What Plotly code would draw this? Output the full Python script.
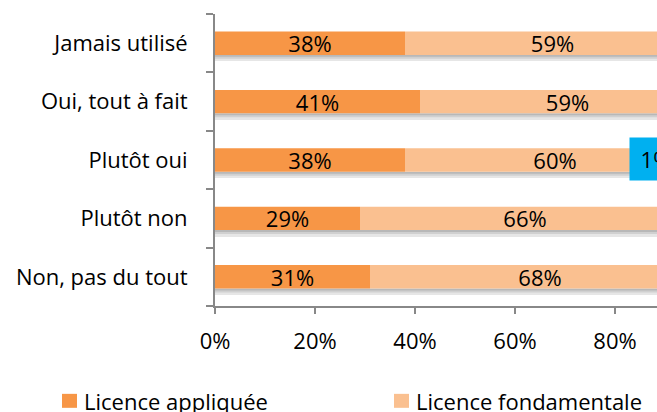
import plotly.graph_objects as go

# Response categories, listed bottom to top
categories = ["Non, pas du tout", "Plutôt non", "Plutôt oui", "Oui, tout à fait", "Jamais utilisé"]
appliquee = [31, 29, 38, 41, 38]
fondamentale = [68, 66, 60, 59, 59]
autre = [None, None, 1, None, None]

x_ticks = [0, 20, 40, 60, 80, 100]
x_tick_labels = ["0%", "20%", "40%", "60%", "80%", "100%"]

FONT = "Open Sans"
FS = 22
DARK = "#F79646"
LIGHT = "#FAC090"
BLUE = "#00B0F0"
AXIS = "#888888"

W, H = 657, 412
LEFT, TOP, BOTTOM = 215, 13.5, 106
PLOT_W = W - LEFT
PLOT_H = H - TOP - BOTTOM
PX_PER_PCT = 5.0
x_max = PLOT_W / PX_PER_PCT


def px_to_paper(px, py):
    return (px - LEFT) / PLOT_W, (H - BOTTOM - py) / PLOT_H


fig = go.Figure()

# soft shadow under each bar, a few thin bands fading out
totals = [a + f for a, f in zip(appliquee, fondamentale)]
band = 0.034
for k, col in enumerate(["#b8b8b8", "#d0d0d0", "#e6e6e6"], start=1):
    fig.add_trace(go.Bar(
        y=categories, x=totals, base=0, orientation="h",
        width=band, offset=-0.2 - band * k,
        marker=dict(color=col, line=dict(width=0)),
        showlegend=False, hoverinfo="skip",
    ))

fig.add_trace(go.Bar(
    y=categories, x=appliquee, base=0, orientation="h", name="Licence appliquée",
    width=0.4, offset=-0.2,
    marker=dict(color=DARK, line=dict(width=0)),
    text=[f"{v}%" for v in appliquee], textposition="inside", insidetextanchor="middle",
    constraintext="none", textangle=0,
    textfont=dict(family=FONT, size=FS, color="black"),
))
fig.add_trace(go.Bar(
    y=categories, x=fondamentale, base=appliquee, orientation="h", name="Licence fondamentale",
    width=0.4, offset=-0.2,
    marker=dict(color=LIGHT, line=dict(width=0)),
    text=[f"{v}%" for v in fondamentale], textposition="inside", insidetextanchor="middle",
    constraintext="none", textangle=0,
    textfont=dict(family=FONT, size=FS, color="black"),
))
fig.add_trace(go.Bar(
    y=categories, x=autre, base=totals, orientation="h", name="Autre",
    width=0.4, offset=-0.2,
    marker=dict(color=BLUE, line=dict(width=0)),
))

# boxed label for the third series
for cat, v in zip(categories, autre):
    if v is not None:
        fig.add_annotation(
            x=82.8, y=cat, xref="x", yref="y", xanchor="left", yanchor="middle",
            yshift=1.5, text=f"{v}%", showarrow=False, bgcolor=BLUE, borderpad=6,
            width=40, align="center",
            font=dict(family=FONT, size=FS, color="black"),
        )

# legend: colour square + name
legend_items = [("Licence appliquée", DARK, 62), ("Licence fondamentale", LIGHT, 394)]
for name, col, lx in legend_items:
    x0, y0 = px_to_paper(lx, 408)
    x1, y1 = px_to_paper(lx + 15, 394)
    fig.add_shape(type="rect", xref="paper", yref="paper", x0=x0, y0=y0, x1=x1, y1=y1,
                  fillcolor=col, line=dict(width=0))
    tx, ty = px_to_paper(lx + 20, 401)
    fig.add_annotation(xref="paper", yref="paper", x=tx, y=ty, xanchor="left", yanchor="middle",
                       text=name, showarrow=False, font=dict(family=FONT, size=FS, color="black"))

fig.update_layout(
    width=W, height=H,
    margin=dict(l=LEFT, r=0, t=TOP, b=BOTTOM, pad=0),
    paper_bgcolor="white", plot_bgcolor="white",
    barmode="overlay",
    font=dict(family=FONT, size=FS, color="black"),
    showlegend=False,
    xaxis=dict(
        range=[0, x_max], tickvals=x_ticks, ticktext=x_tick_labels,
        showgrid=False, zeroline=False,
        showline=True, linecolor=AXIS, linewidth=2,
        ticks="outside", ticklen=6, tickwidth=2, tickcolor=AXIS,
        ticklabelstandoff=9,
    ),
    yaxis=dict(
        categoryorder="array", categoryarray=categories,
        showgrid=False, zeroline=False,
        showline=True, linecolor=AXIS, linewidth=2,
        ticks="outside", ticklen=7, tickwidth=2, tickcolor=AXIS,
        tickson="boundaries", ticklabelstandoff=21,
    ),
)

fig.write_html("out.html")
